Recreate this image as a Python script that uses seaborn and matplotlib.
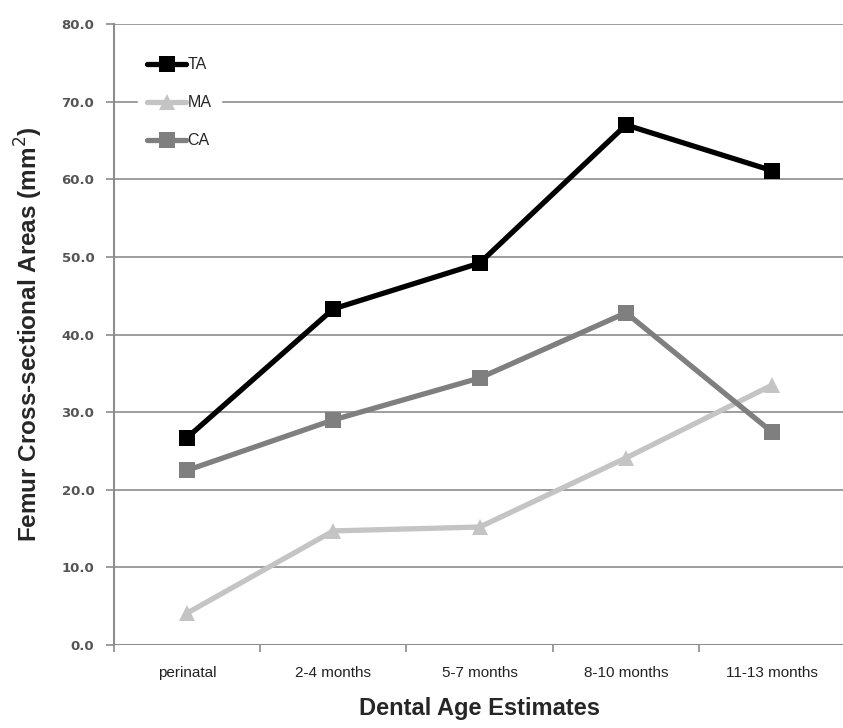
import matplotlib
matplotlib.use("Agg")
import matplotlib.pyplot as plt
import seaborn as sns
import pandas as pd
import numpy as np

categories = ["perinatal", "2-4 months", "5-7 months", "8-10 months", "11-13 months"]
ta = [26.7, 43.3, 49.2, 67.0, 61.1]
ma = [4.1, 14.7, 15.2, 24.1, 33.5]
ca = [22.5, 29.0, 34.4, 42.8, 27.4]
series = ["TA", "MA", "CA"]
yticks = [0, 10, 20, 30, 40, 50, 60, 70, 80]

rows = []
for name, vals in zip(series, [ta, ma, ca]):
    for i, (c, v) in enumerate(zip(categories, vals)):
        rows.append({"x": i, "cat": c, "value": v, "series": name})
df = pd.DataFrame(rows)

sns.set_theme(style="white")
plt.rcParams['font.family'] = ['Liberation Sans', 'DejaVu Sans']

fig = plt.figure(figsize=(8.43, 7.28), dpi=100)
ax = fig.add_axes([0.135, 0.114, 0.868, 0.853])

palette = {"TA": "#000000", "MA": "#c4c4c4", "CA": "#7f7f7f"}
markers = {"TA": "s", "MA": "^", "CA": "s"}
sns.lineplot(data=df, x="x", y="value", hue="series", style="series",
             palette=palette, markers=markers, dashes=False, linewidth=3.8,
             markersize=11, markeredgewidth=0, ax=ax, zorder=3)

ax.set_ylim(0, 80)
ax.set_xlim(-0.5, 4.47)
ax.set_yticks(yticks)
ax.set_yticklabels([f"{v:.1f}" for v in yticks], color="#555555",
                   fontsize=9.5, fontweight="bold", family=["DejaVu Sans"])
for v in yticks[1:]:
    ax.axhline(v, color="#8c8c8c", lw=1.2, zorder=1)
ax.axhline(0, color="#8c8c8c", lw=1.5, zorder=1)
ax.set_xticks(np.arange(-0.5, 4.6, 1.0), minor=False)
ax.set_xticklabels([""] * 6)
ax.set_xticks(range(5), minor=True)
ax.set_xticklabels(categories, minor=True, fontsize=11, color="#222222")
ax.tick_params(axis="x", which="minor", length=0, pad=15)
ax.tick_params(axis="x", which="major", length=5, color="#8c8c8c", width=1.2, direction="out", bottom=True)
ax.tick_params(axis="y", length=6, color="#8c8c8c", width=1.2, direction="out", left=True, pad=8)

for s in ["top", "right", "bottom"]:
    ax.spines[s].set_visible(False)
ax.spines["left"].set_color("#8c8c8c")
ax.spines["left"].set_linewidth(1.5)

ax.set_xlabel("Dental Age Estimates", fontsize=17, fontweight="bold", labelpad=12)
ax.set_ylabel("Femur Cross-sectional Areas (mm$^2$)", fontsize=17.5, fontweight="bold",
              labelpad=12)

leg = ax.legend(loc="upper left", bbox_to_anchor=(0.022, 0.975), frameon=True,
                framealpha=1, edgecolor="white", facecolor="white",
                fontsize=11.5, handlelength=2.4, handletextpad=0.1,
                labelspacing=1.45, borderpad=0.6)
leg.set_zorder(5)

fig.savefig("out.png", dpi=100)
